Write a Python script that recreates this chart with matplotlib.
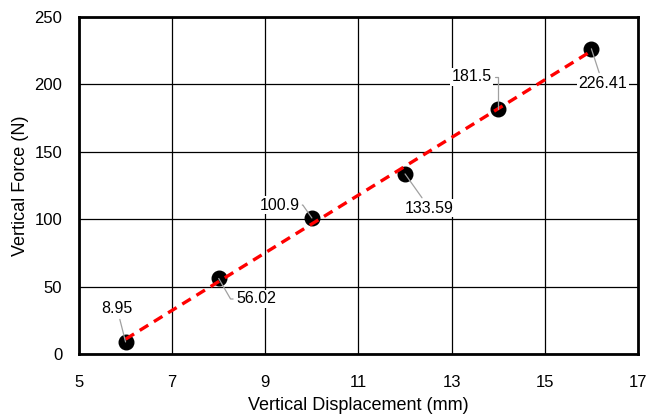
import numpy as np
import matplotlib.pyplot as plt

plt.rcParams['font.family'] = ['Liberation Sans', 'DejaVu Sans']

# Data
displacement = [6, 8, 10, 12, 14, 16]
force = [8.95, 56.02, 100.9, 133.59, 181.5, 226.41]
labels = ['8.95', '56.02', '100.9', '133.59', '181.5', '226.41']
# where each data label sits (data coords)
label_x = [5.82, 8.8, 9.30, 12.52, 13.43, 16.24]
label_y = [33.4, 40.8, 110.5, 108.3, 205.5, 201.0]
# leader line shape for each label
leaders = [None, 'angle,angleA=180,angleB=-60,rad=0', 'angle,angleA=0,angleB=125,rad=0',
           None, 'angle,angleA=0,angleB=90,rad=0', None]

fig = plt.figure(figsize=(6.49, 4.15), dpi=100)
ax = fig.add_axes([0.1217, 0.147, 0.8613, 0.812])

# linear trendline
k, b = np.polyfit(displacement, force, 1)
xs = np.array([displacement[0], displacement[-1]])
ax.plot(xs, k * xs + b, color='#ff0000', ls=(0, (3, 2)), lw=2.4, zorder=4)

ax.scatter(displacement, force, s=110, color='black', zorder=3)

for x, y, t, lx, ly, cs in zip(displacement, force, labels, label_x, label_y, leaders):
    ap = dict(arrowstyle='-', color='#a0a0a0', lw=0.9, shrinkA=1, shrinkB=0)
    if cs:
        ap['connectionstyle'] = cs
    ax.annotate(t, xy=(x, y), xytext=(lx, ly), ha='center', va='center',
                fontsize=11.5, zorder=5,
                bbox=dict(boxstyle='square,pad=0.1', fc='white', ec='none'),
                arrowprops=ap)

ax.set_xlim(5, 17)
ax.set_ylim(0, 250)
ax.set_xticks(np.arange(5, 18, 2))
ax.set_yticks(np.arange(0, 251, 50))
ax.grid(True, color='black', lw=0.9)
ax.set_axisbelow(True)
ax.tick_params(length=0, labelsize=12)
ax.tick_params(axis='x', pad=15)
ax.tick_params(axis='y', pad=12)
for s in ax.spines.values():
    s.set_linewidth(2)

ax.set_xlabel('Vertical Displacement (mm)', fontsize=13, labelpad=5)
ax.set_ylabel('Vertical Force (N)', fontsize=13, labelpad=4)

fig.savefig('out.png', dpi=100)
